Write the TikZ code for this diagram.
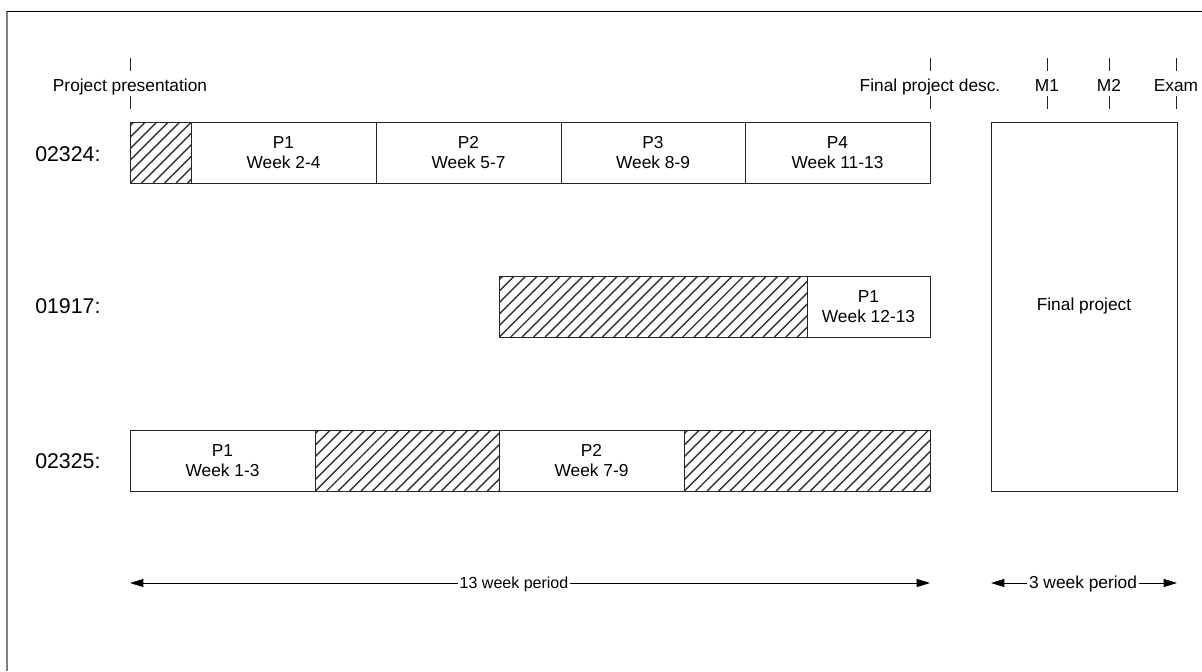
\documentclass[tikz,border=0pt]{standalone}
\usepackage{fontspec}
\setmainfont{Liberation Sans}
\usetikzlibrary{arrows.meta,fit}
\begin{document}
\begin{tikzpicture}[x=0.75pt,y=-0.75pt,
  cell/.style={draw=black!85, line width=0.75pt, inner sep=0pt},
  ctext/.style={align=center, inner sep=0pt, font=\fontsize{13}{15}\selectfont},
  hatch/.style={path picture={\foreach \k in {0,...,42}{\draw[line width=1.05pt, black!80] ([xshift=\k*8.6pt-60pt]path picture bounding box.south west) -- ++(100pt,100pt);}}},
  lbl/.style={font=\fontsize{13}{15}\selectfont, inner sep=0pt, text height=9.5pt, text depth=3pt},
  rowlbl/.style={font=\fontsize{16}{18}\selectfont, anchor=west, inner sep=0pt},
  dim/.style={-{Triangle[length=10pt,width=6pt]}, line width=0.75pt},
  tick/.style={line width=0.75pt, black!85}
]
\useasboundingbox (0,0) rectangle (1202,671);
% frame
\draw[gray, line width=1.5pt] (7,11) -- (7,671);
\draw[black, line width=0.75pt] (7,11) -- (1202,11);

% milestones
\node[lbl] (mPP) at (130,87) {Project presentation};
\node[lbl] (mFD) at (930,87) {Final project desc.};
\node[lbl] (mM1) at (1047,87) {M1};
\node[lbl] (mM2) at (1109,87) {M2};
\node[lbl] (mEx) at (1176,87) {Exam};
\foreach \m in {mPP,mFD,mM1,mM2,mEx}{
  \draw[tick] (\m.center) ++(0,-29) -- ++(0,13);
  \draw[tick] (\m.center) ++(0,9) -- ++(0,13);
}

% row labels
\node[rowlbl] (r1) at (35,154) {02324:};
\node[rowlbl] (r2) at (35,306) {01917:};
\node[rowlbl] (r3) at (35,461) {02325:};

% row 1
\node[cell, hatch, fit={(130,122) (191,183)}] (a0) {};
\node[cell, fit={(191,122) (376,183)}] (a1) {};
\node[cell, fit={(376,122) (561,183)}] (a2) {};
\node[cell, fit={(561,122) (745,183)}] (a3) {};
\node[cell, fit={(745,122) (930,183)}] (a4) {};
\node[ctext] at (a1.center) {P1\\Week 2-4};
\node[ctext] at (a2.center) {P2\\Week 5-7};
\node[ctext] at (a3.center) {P3\\Week 8-9};
\node[ctext] at (a4.center) {P4\\Week 11-13};

% row 2
\node[cell, hatch, fit={(499,276) (807,337)}] (b0) {};
\node[cell, fit={(807,276) (930,337)}] (b1) {};
\node[ctext] at (b1.center) {P1\\Week 12-13};

% row 3
\node[cell, fit={(130,430) (315,491)}] (c1) {};
\node[cell, hatch, fit={(315,430) (499,491)}] (c2) {};
\node[cell, fit={(499,430) (684,491)}] (c3) {};
\node[cell, hatch, fit={(684,430) (930,491)}] (c4) {};
\node[ctext] at (c1.center) {P1\\Week 1-3};
\node[ctext] at (c3.center) {P2\\Week 7-9};

% final project
\node[cell, fit={(991,122) (1177,491)}] (fp) {};
\node[lbl] at (fp.center) {Final project};

% period arrows
\node[lbl, font=\fontsize{12}{14}\selectfont, inner xsep=1pt] (p13) at (514,584) {13 week period};
\coordinate (p13l) at (130,583);
\coordinate (p13r) at (930,583);
\draw[dim] (p13.west |- p13l) -- (p13l);
\draw[dim] (p13.east |- p13r) -- (p13r);

\node[lbl, inner xsep=1pt] (p3) at (1083,584) {3 week period};
\coordinate (p3l) at (991,583);
\coordinate (p3r) at (1177,583);
\draw[dim] (p3.west |- p3l) -- (p3l);
\draw[dim] (p3.east |- p3r) -- (p3r);
\end{tikzpicture}
\end{document}
